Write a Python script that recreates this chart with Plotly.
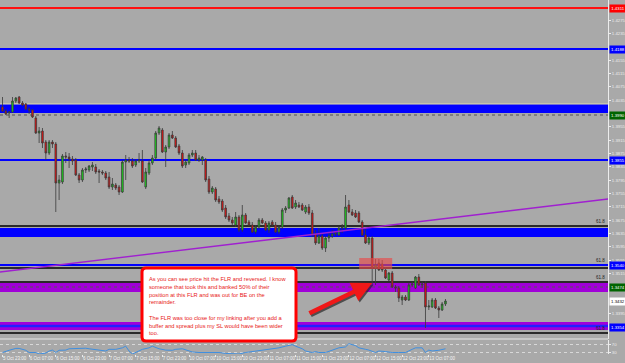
import plotly.graph_objects as go

W, H = 625, 363

# ---------------- data (H1 candles) ----------------
opens = [1.4014, 1.4002, 1.3996, 1.3999, 1.4032, 1.4044, 1.4026, 1.4023, 1.4008, 1.4005,
         1.3981, 1.3936, 1.3942, 1.3909, 1.3876, 1.3909, 1.3903, 1.3786, 1.3789, 1.3867,
         1.3864, 1.3858, 1.3855, 1.3810, 1.3795, 1.3825, 1.3825, 1.3834, 1.3834, 1.3822,
         1.3819, 1.3816, 1.3804, 1.3774, 1.3780, 1.3774, 1.3759, 1.3849, 1.3855, 1.3852,
         1.3840, 1.3852, 1.3852, 1.3774, 1.3816, 1.3846, 1.3861, 1.3936, 1.3945, 1.3879,
         1.3894, 1.3930, 1.3921, 1.3897, 1.3876, 1.3840, 1.3846, 1.3870, 1.3876, 1.3855,
         1.3855, 1.3855, 1.3798, 1.3759, 1.3768, 1.3738, 1.3732, 1.3711, 1.3687, 1.3675,
         1.3660, 1.3684, 1.3645, 1.3690, 1.3669, 1.3660, 1.3639, 1.3654, 1.3675, 1.3666,
         1.3645, 1.3669, 1.3660, 1.3639, 1.3654, 1.3705, 1.3711, 1.3744, 1.3714, 1.3720,
         1.3720, 1.3699, 1.3714, 1.3696, 1.3633, 1.3606, 1.3627, 1.3591, 1.3621, 1.3627,
         1.3633, 1.3630, 1.3651, 1.3651, 1.3720, 1.3699, 1.3696, 1.3696, 1.3669, 1.3630,
         1.3606, 1.3621, 1.3531, 1.3546, 1.3543, 1.3525, 1.3495, 1.3516, 1.3474, 1.3471,
         1.3435, 1.3444, 1.3435, 1.3480, 1.3471, 1.3504, 1.3480, 1.3486, 1.3414, 1.3414,
         1.3435, 1.3411, 1.3405, 1.3423]
highs = [1.4044, 1.4008, 1.4002, 1.4044, 1.4044, 1.4047, 1.4032, 1.4026, 1.4014, 1.4008,
         1.3987, 1.3954, 1.3951, 1.3915, 1.3915, 1.3915, 1.3909, 1.3810, 1.3873, 1.3879,
         1.3876, 1.3867, 1.3861, 1.3816, 1.3831, 1.3834, 1.3840, 1.3849, 1.3843, 1.3828,
         1.3825, 1.3822, 1.3819, 1.3801, 1.3786, 1.3780, 1.3855, 1.3870, 1.3864, 1.3861,
         1.3858, 1.3876, 1.3885, 1.3831, 1.3855, 1.3870, 1.3942, 1.3957, 1.3951, 1.3900,
         1.3936, 1.3942, 1.3927, 1.3903, 1.3885, 1.3855, 1.3876, 1.3885, 1.3885, 1.3870,
         1.3867, 1.3861, 1.3807, 1.3777, 1.3774, 1.3747, 1.3738, 1.3720, 1.3696, 1.3684,
         1.3699, 1.3690, 1.3720, 1.3696, 1.3675, 1.3669, 1.3660, 1.3681, 1.3681, 1.3672,
         1.3672, 1.3675, 1.3669, 1.3660, 1.3711, 1.3717, 1.3744, 1.3750, 1.3735, 1.3729,
         1.3726, 1.3720, 1.3723, 1.3705, 1.3645, 1.3651, 1.3633, 1.3627, 1.3636, 1.3645,
         1.3642, 1.3657, 1.3663, 1.3750, 1.3735, 1.3708, 1.3705, 1.3702, 1.3675, 1.3651,
         1.3627, 1.3627, 1.3558, 1.3558, 1.3555, 1.3534, 1.3519, 1.3522, 1.3480, 1.3477,
         1.3450, 1.3450, 1.3486, 1.3489, 1.3507, 1.3513, 1.3489, 1.3492, 1.3435, 1.3441,
         1.3441, 1.3417, 1.3429, 1.3438]
lows = [1.3999, 1.3990, 1.3981, 1.3996, 1.4026, 1.4023, 1.4017, 1.4005, 1.3993, 1.3981,
        1.3933, 1.3906, 1.3891, 1.3855, 1.3870, 1.3891, 1.3699, 1.3735, 1.3783, 1.3846,
        1.3831, 1.3840, 1.3807, 1.3786, 1.3789, 1.3816, 1.3819, 1.3822, 1.3813, 1.3786,
        1.3810, 1.3795, 1.3768, 1.3765, 1.3765, 1.3750, 1.3756, 1.3795, 1.3846, 1.3831,
        1.3834, 1.3846, 1.3786, 1.3768, 1.3810, 1.3840, 1.3855, 1.3930, 1.3876, 1.3834,
        1.3888, 1.3918, 1.3891, 1.3870, 1.3831, 1.3831, 1.3840, 1.3864, 1.3852, 1.3849,
        1.3840, 1.3789, 1.3753, 1.3753, 1.3729, 1.3723, 1.3699, 1.3678, 1.3669, 1.3660,
        1.3654, 1.3639, 1.3639, 1.3663, 1.3657, 1.3636, 1.3633, 1.3648, 1.3663, 1.3642,
        1.3636, 1.3657, 1.3636, 1.3633, 1.3648, 1.3696, 1.3708, 1.3708, 1.3708, 1.3711,
        1.3702, 1.3693, 1.3690, 1.3624, 1.3600, 1.3603, 1.3585, 1.3579, 1.3609, 1.3621,
        1.3627, 1.3627, 1.3636, 1.3645, 1.3696, 1.3687, 1.3681, 1.3666, 1.3627, 1.3603,
        1.3600, 1.3480, 1.3480, 1.3522, 1.3519, 1.3498, 1.3492, 1.3471, 1.3459, 1.3429,
        1.3420, 1.3432, 1.3432, 1.3474, 1.3468, 1.3477, 1.3471, 1.3351, 1.3405, 1.3411,
        1.3408, 1.3381, 1.3402, 1.3417]
closes = [1.4002, 1.3993, 1.3999, 1.4032, 1.4041, 1.4026, 1.4020, 1.4008, 1.4005, 1.3984,
          1.3936, 1.3942, 1.3906, 1.3876, 1.3909, 1.3903, 1.3786, 1.3795, 1.3867, 1.3864,
          1.3858, 1.3852, 1.3810, 1.3795, 1.3825, 1.3828, 1.3837, 1.3840, 1.3819, 1.3819,
          1.3816, 1.3801, 1.3774, 1.3783, 1.3771, 1.3759, 1.3849, 1.3855, 1.3852, 1.3837,
          1.3852, 1.3855, 1.3789, 1.3819, 1.3846, 1.3861, 1.3936, 1.3951, 1.3879, 1.3894,
          1.3930, 1.3921, 1.3894, 1.3876, 1.3837, 1.3849, 1.3870, 1.3876, 1.3855, 1.3861,
          1.3864, 1.3795, 1.3759, 1.3771, 1.3735, 1.3729, 1.3705, 1.3684, 1.3675, 1.3666,
          1.3684, 1.3645, 1.3690, 1.3666, 1.3660, 1.3639, 1.3654, 1.3675, 1.3666, 1.3645,
          1.3666, 1.3660, 1.3639, 1.3654, 1.3705, 1.3711, 1.3741, 1.3711, 1.3726, 1.3714,
          1.3705, 1.3714, 1.3696, 1.3630, 1.3606, 1.3627, 1.3591, 1.3621, 1.3627, 1.3633,
          1.3636, 1.3651, 1.3654, 1.3714, 1.3699, 1.3690, 1.3684, 1.3669, 1.3630, 1.3606,
          1.3621, 1.3531, 1.3540, 1.3525, 1.3525, 1.3501, 1.3516, 1.3474, 1.3471, 1.3441,
          1.3444, 1.3435, 1.3480, 1.3483, 1.3504, 1.3480, 1.3483, 1.3414, 1.3417, 1.3435,
          1.3411, 1.3405, 1.3423, 1.3432]
bars = list(range(len(closes)))

x_tick_bars = [0, 8, 16, 24, 32, 40, 48, 56, 64, 72, 80, 88, 96, 104, 112, 120, 128]
x_tick_labels = ["5 Oct 23:00", "6 Oct 07:00", "6 Oct 15:00", "6 Oct 23:00", "7 Oct 07:00",
                 "7 Oct 15:00", "7 Oct 23:00", "10 Oct 07:00", "10 Oct 15:00", "10 Oct 23:00",
                 "11 Oct 07:00", "11 Oct 15:00", "11 Oct 23:00", "12 Oct 07:00", "12 Oct 15:00",
                 "12 Oct 23:00", "13 Oct 07:00"]

# indicator (lower pane)
ind_bars = [0, 1, 2, 4, 5, 7, 8, 10, 11, 13, 14, 15, 16, 17, 19, 20, 22, 23, 25, 26,
            28, 29, 31, 32, 34, 36, 37, 38, 39, 41, 42, 44, 45, 47, 49, 51, 52, 54, 55, 57,
            59, 61, 63, 65, 67, 69, 71, 73, 75, 77, 79, 81, 83, 85, 87, 88, 90, 91, 93, 94,
            95, 97, 99, 101, 103, 104, 106, 107, 109, 110, 112, 113, 115, 117, 119, 121, 123, 124, 126, 127,
            128, 129, 131, 133]
ind_vals = [28, 36, 40, 50, 50, 40, 28, 28, 20, 25, 36, 41, 28, 40, 41, 48, 50, 53, 51, 48,
            45, 41, 36, 45, 45, 53, 62, 36, 20, 36, 45, 53, 62, 48, 41, 40, 45, 48, 41, 31,
            28, 28, 25, 28, 23, 23, 20, 28, 33, 36, 45, 48, 53, 62, 70, 62, 48, 36, 28, 33,
            28, 28, 41, 53, 58, 75, 65, 53, 45, 41, 28, 36, 33, 28, 28, 28, 45, 53, 53, 28,
            41, 36, 40, 48]

# drawn levels
red_level = 1.4311
blue_lines = [1.4188, 1.3855]
band_top = (1.4023, 1.3996)
dotted_levels = [1.3990, 1.3474]
band_mid = (1.3651, 1.3624)
fib_black = [1.3657, 1.3531, 1.3489, 1.3336]
blue_line_low = 1.3540
purple_band = (1.3486, 1.3459)
purple_band_low = (1.3369, 1.3345)
blue_line_bottom = 1.3357
trend_bars = [-0.75, 181.8]
trend_prices = [1.3519, 1.3738]
zone_bars = (107.1, 117.0)
zone_prices = (1.3561, 1.3528)
arrow_tail = (91.7, 1.3393)
arrow_head = (111.0, 1.3486)
fib_labels = [(1.3657, "61.8"), (1.3540, "61.8"), (1.3489, "61.8"), (1.3336, "61.8")]
price_boxes = [(1.4311, "#ff0000"), (1.4188, "#0000ff"), (1.3990, "#006400"), (1.3855, "#0000ff"),
               (1.3540, "#0000ff"), (1.3474, "#006400"), (1.3354, "#0000ff")]

note_lines = ["As you can see price hit the FLR and reversed. I know",
              "someone that took this and banked 50% of their",
              "position at this FLR and was out for BE on the",
              "remainder.",
              "",
              "The FLR was too close for my linking after you add a",
              "buffer and spread plus my SL would have been wider",
              "too."]

# ---------------- layout helpers ----------------
PLOT_R = 608
def px(x):
    return x / W
def py(y):
    return 1 - y / H

BG = "#a9a9a9"
AX = "#ececec"
XR = [-0.75, 181.8]
YR = [1.3318, 1.4335]

fig = go.Figure()
fig.add_trace(go.Candlestick(
    x=bars, open=opens, high=highs, low=lows, close=closes,
    increasing=dict(fillcolor="#19e019", line=dict(color="#3a3a3a", width=0.8)),
    decreasing=dict(fillcolor="#f01010", line=dict(color="#3a3a3a", width=0.8)),
    whiskerwidth=0, xaxis="x", yaxis="y", showlegend=False, hoverinfo="skip"))
fig.add_trace(go.Scatter(x=trend_bars, y=trend_prices, mode="lines",
                         line=dict(color="#a020d0", width=1.4), xaxis="x", yaxis="y",
                         showlegend=False, hoverinfo="skip"))
fig.add_trace(go.Scatter(x=ind_bars, y=ind_vals, mode="lines",
                         line=dict(color="#3f8fe0", width=1), xaxis="x2", yaxis="y2",
                         showlegend=False, hoverinfo="skip"))

shapes = []
def hband(y0, y1, color, layer="below"):
    shapes.append(dict(type="rect", xref="x domain", yref="y", x0=0, x1=1, y0=y0, y1=y1,
                       fillcolor=color, line=dict(width=0), layer=layer))
def hline(y, color, width=1, dash="solid", layer="below"):
    shapes.append(dict(type="line", xref="x domain", yref="y", x0=0, x1=1, y0=y, y1=y,
                       line=dict(color=color, width=width, dash=dash), layer=layer))

hline(red_level, "#ff1010", 2)
for b in blue_lines:
    hline(b, "#0000ff", 2)
hband(band_top[1], band_top[0], "#0000ff")
hline(band_top[0], "#e0dcb0", 1)
hband(band_mid[1], band_mid[0], "#0000ff")
hband(purple_band[1], purple_band[0], "#a000d8")
hband(purple_band_low[1], purple_band_low[0], "#a000d8")
hline(blue_line_bottom, "#2020ff", 2.5)
hline(blue_line_low, "#0000ff", 2)
for b in fib_black:
    hline(b, "#000000", 1.3)
for d in dotted_levels:
    hline(d, "#555555", 1, "dot")

# red zone rectangle
shapes.append(dict(type="rect", xref="x", yref="y", x0=zone_bars[0], x1=zone_bars[1],
                   y0=zone_prices[1], y1=zone_prices[0], fillcolor="#e84a4a", opacity=0.65,
                   line=dict(width=0), layer="above"))
# pane separator
shapes.append(dict(type="line", xref="paper", yref="paper", x0=0, x1=px(PLOT_R),
                   y0=py(339), y1=py(339), line=dict(color="#e6e6e6", width=1), layer="above"))

# note box (rounded)
bx0, bx1, by0, by1, r = 142, 296, 268, 341, 4
path = (f"M {px(bx0+r)},{py(by0)} L {px(bx1-r)},{py(by0)} Q {px(bx1)},{py(by0)} {px(bx1)},{py(by0+r)} "
        f"L {px(bx1)},{py(by1-r)} Q {px(bx1)},{py(by1)} {px(bx1-r)},{py(by1)} "
        f"L {px(bx0+r)},{py(by1)} Q {px(bx0)},{py(by1)} {px(bx0)},{py(by1-r)} "
        f"L {px(bx0)},{py(by0+r)} Q {px(bx0)},{py(by0)} {px(bx0+r)},{py(by0)} Z")
shapes.append(dict(type="path", xref="paper", yref="paper", path=path, fillcolor="#ffffff",
                   line=dict(color="#ff0000", width=3), layer="above"))

annotations = []
# arrow shadow + arrow
annotations.append(dict(x=arrow_head[0] + 0.4, y=arrow_head[1] - 0.0005, ax=arrow_tail[0] + 0.4,
                        ay=arrow_tail[1] - 0.0005, xref="x", yref="y", axref="x", ayref="y",
                        showarrow=True, arrowhead=2, arrowsize=0.9, arrowwidth=4.5,
                        arrowcolor="rgba(40,40,40,0.7)", text="", standoff=0))
annotations.append(dict(x=arrow_head[0], y=arrow_head[1], ax=arrow_tail[0], ay=arrow_tail[1],
                        xref="x", yref="y", axref="x", ayref="y", showarrow=True, arrowhead=2,
                        arrowsize=0.9, arrowwidth=4.5, arrowcolor="#f01818", text="", standoff=0))

# note text
line_y0, line_dy = 279, 7.75
for i, t in enumerate(note_lines):
    if not t:
        continue
    annotations.append(dict(x=px(147), y=py(line_y0 + i * line_dy), xref="paper", yref="paper",
                            xanchor="left", yanchor="middle", showarrow=False, text=t,
                            font=dict(family="Liberation Sans", size=5.7, color="#e81818")))

# fib labels
for v, t in fib_labels:
    annotations.append(dict(x=px(PLOT_R - 1), y=v, xref="paper", yref="y", xanchor="right",
                            yanchor="bottom", showarrow=False, text=t,
                            font=dict(family="Liberation Sans", size=4.5, color="#222222")))

# right-side price boxes
for v, c in price_boxes:
    annotations.append(dict(x=px(PLOT_R + 1), y=v, xref="paper", yref="y", xanchor="left",
                            yanchor="middle", showarrow=False, text=f"{v:.4f}", bgcolor=c,
                            width=15, height=6, borderpad=0.5,
                            font=dict(family="Liberation Sans", size=4.3, color="#ffffff")))
annotations.append(dict(x=px(PLOT_R + 1), y=closes[-1], xref="paper", yref="y", xanchor="left",
                        yanchor="middle", showarrow=False, text=f"{closes[-1]:.4f}", bgcolor="#ffffff",
                        width=15, height=6, borderpad=0.5,
                        font=dict(family="Liberation Sans", size=4.3, color="#000000")))

# y ticks every 40 pips, skip those hidden by price boxes
marked = [v for v, _ in price_boxes] + [closes[-1]]
yticks = []
v = 1.3355
while v < 1.4335:
    if all(abs(v - m) > 0.0012 for m in marked):
        yticks.append(round(v, 4))
    v += 0.004

fig.update_layout(
    width=W, height=H, autosize=False,
    margin=dict(l=0, r=0, t=0, b=0, autoexpand=False),
    paper_bgcolor=BG, plot_bgcolor=BG,
    shapes=shapes, annotations=annotations,
    font=dict(family="Liberation Sans", color=AX),
    xaxis=dict(domain=[0, px(PLOT_R)], range=XR, anchor="y", showticklabels=False,
               showgrid=False, zeroline=False, rangeslider=dict(visible=False), ticks="",
               automargin=False),
    yaxis=dict(domain=[py(339), 1], range=YR, side="right", anchor="x", showgrid=False,
               zeroline=False, showline=True, linecolor=AX, linewidth=1, ticks="outside",
               ticklen=2, tickcolor=AX, tickvals=yticks, tickformat=".4f", automargin=False,
               tickfont=dict(size=4.3, color=AX)),
    xaxis2=dict(domain=[0, px(PLOT_R)], range=XR, anchor="y2", matches="x", showgrid=False,
                zeroline=False, tickvals=x_tick_bars, ticktext=x_tick_labels, ticks="outside",
                ticklen=2, tickcolor=AX, ticklabelposition="outside right", tickangle=0,
                automargin=False, tickfont=dict(size=4.5, color="#f4f4f4")),
    yaxis2=dict(domain=[py(354), py(340)], range=[20, 95], side="right", anchor="x2",
                showgrid=True, gridcolor="#d8d8d8", griddash="dot", gridwidth=1, zeroline=False,
                showline=True, linecolor=AX, tickvals=[30, 70], ticks="outside", ticklen=2,
                automargin=False, tickcolor=AX, tickfont=dict(size=4.3, color=AX)),
)

fig.write_html("out.html")
